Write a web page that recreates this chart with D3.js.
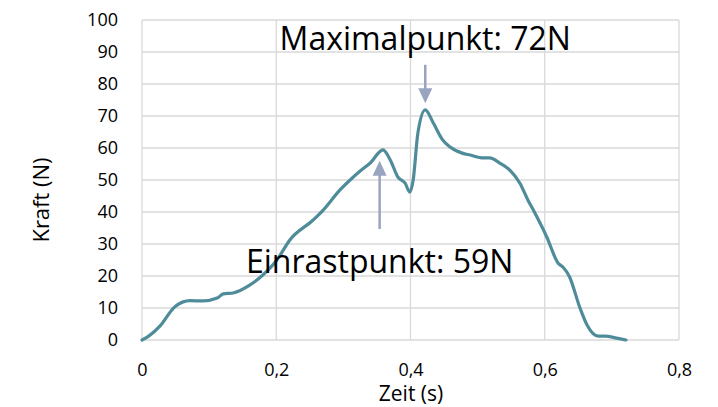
<!DOCTYPE html>
<html><head><meta charset="utf-8">
<script src="https://cdn.jsdelivr.net/npm/d3@7"></script>
<style>body{margin:0;background:#fff;} svg{display:block;font-family:"Open Sans",sans-serif;}</style>
</head><body><svg id="c" width="718" height="407"></svg>
<script>
const time = [0,0.01,0.027,0.049,0.0715,0.091,0.112,0.121,0.136,0.161,0.180,0.201,0.220,0.255,0.270,0.295,0.31,0.325,0.340,0.359,0.370,0.381,0.392,0.399,0.404,0.411,0.422,0.434,0.448,0.459,0.477,0.489,0.508,0.518,0.533,0.548,0.563,0.575,0.583,0.603,0.620,0.627,0.637,0.652,0.663,0.680,0.690,0.707,0.721];
const force = [0,1.2,4.4,10.4,12.3,12.2,13.1,14.4,14.7,17.2,20.3,25,31.2,37.5,40.6,46.9,50,52.8,55.3,59.4,56.2,51,49,46.2,50,64.7,71.9,67.8,62.5,60.3,58.4,57.8,56.9,56.9,55.3,53.1,49,43.7,40.6,32.2,24,22.8,19.7,10.3,4.7,1.2,1.2,0.6,0];
const xTicks = [0,0.2,0.4,0.6,0.8];
const yTicks = [0,10,20,30,40,50,60,70,80,90,100];
const annotations = [
  {label:"Maximalpunkt: 72N", t:0.422, textF:90.6, tipF:74, tailF:86},
  {label:"Einrastpunkt: 59N", t:0.354, textF:20.9, tipF:56, tailF:34.7}
];

const svg = d3.select("#c");
const x = d3.scaleLinear().domain([0,0.8]).range([142,679]);
const y = d3.scaleLinear().domain([0,100]).range([340,20]);
const fmt = d => d===0 ? "0" : d3.format(".1f")(d).replace(".", ",");

// gridlines
svg.append("g").selectAll("line").data(yTicks).join("line")
  .attr("x1",x(0)).attr("x2",x(0.8)).attr("y1",d=>y(d)).attr("y2",d=>y(d))
  .attr("stroke","#d9d9d9").attr("stroke-width",1.3);
svg.append("g").selectAll("line").data(xTicks).join("line")
  .attr("x1",d=>x(d)).attr("x2",d=>x(d)).attr("y1",y(0)).attr("y2",y(100))
  .attr("stroke","#d9d9d9").attr("stroke-width",1.3);

// y axis labels
const yAxis = svg.append("g").attr("transform",`translate(${x(0)},0)`)
  .call(d3.axisLeft(y).tickValues(yTicks).tickSize(0).tickPadding(24));
yAxis.select(".domain").remove();
yAxis.selectAll("text").attr("font-size",18).attr("font-family","Open Sans").attr("fill","#000");

const xAxis = svg.append("g").attr("transform",`translate(0,${y(0)})`)
  .call(d3.axisBottom(x).tickValues(xTicks).tickFormat(fmt).tickSize(0).tickPadding(23));
xAxis.select(".domain").remove();
xAxis.selectAll("text").attr("font-size",18).attr("font-family","Open Sans").attr("fill","#000");

// titles
svg.append("text").attr("x",411).attr("y",401).attr("text-anchor","middle")
  .attr("font-size",21).text("Zeit (s)");
svg.append("text").attr("transform","translate(49,200) rotate(-90)").attr("text-anchor","middle")
  .attr("font-size",22).text("Kraft (N)");

// line
const data = time.map((t,i)=>({t, f:force[i]}));
svg.append("path").datum(data)
  .attr("fill","none").attr("stroke","#4f8c9a").attr("stroke-width",3.2)
  .attr("stroke-linejoin","round").attr("stroke-linecap","round")
  .attr("d", d3.line().x(d=>x(d.t)).y(d=>y(d.f)).curve(d3.curveMonotoneX));

// arrows
const arrowColor = "#98a4c0";
annotations.forEach(a=>{
  const xp = x(a.t), tip = y(a.tipF), tail = y(a.tailF);
  const dir = tip > tail ? 1 : -1;
  const headLen = 15, headW = 7;
  svg.append("line").attr("x1",xp).attr("x2",xp).attr("y1",tail).attr("y2",tip - dir*headLen+dir*1)
    .attr("stroke",arrowColor).attr("stroke-width",2.5);
  svg.append("path").attr("fill",arrowColor)
    .attr("d",`M${xp},${tip} L${xp-headW},${tip-dir*headLen} L${xp+headW},${tip-dir*headLen} Z`);
  svg.append("text").attr("x",xp).attr("y",y(a.textF)).attr("text-anchor","middle")
    .attr("font-size",32).text(a.label);
});
</script>
</body></html>
